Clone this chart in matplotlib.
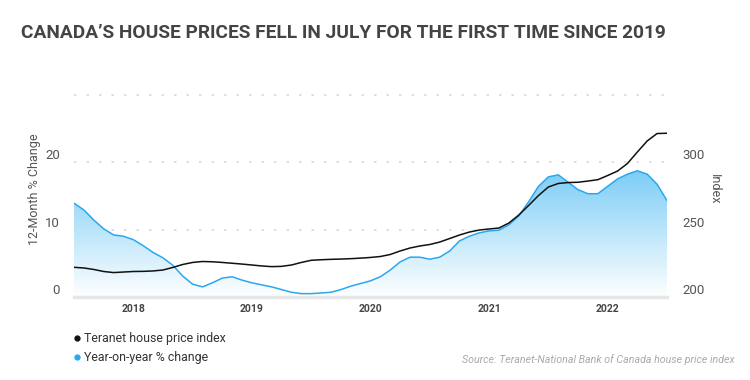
import matplotlib.pyplot as plt
import numpy as np
from matplotlib.lines import Line2D
from matplotlib.patches import Polygon

plt.rcParams["font.family"] = ["Roboto", "DejaVu Sans"]

# monthly, Jul 2017 .. Jul 2022
months = np.arange(2017 + 6 / 12, 2022 + 7 / 12, 1 / 12)[:61]

yoy_change = [
    13.9, 12.9, 11.4, 10.1, 9.2, 9.0, 8.5, 7.6, 6.6, 5.8, 4.7, 3.1,
    1.9, 1.5, 2.1, 2.8, 3.0, 2.5, 2.1, 1.8, 1.5, 1.1, 0.7, 0.5,
    0.5, 0.6, 0.7, 1.1, 1.6, 2.0, 2.4, 3.0, 4.0, 5.2, 5.9, 5.9,
    5.6, 5.9, 6.8, 8.3, 9.0, 9.5, 9.8, 9.9, 10.7, 12.0, 14.1, 16.4,
    17.8, 18.1, 17.0, 15.9, 15.3, 15.3, 16.4, 17.5, 18.2, 18.7, 18.2, 16.7,
    14.3,
]

price_index = [
    222.0, 221.5, 220.4, 218.9, 218.1, 218.5, 218.9, 219.0, 219.3, 220.0, 221.9, 224.1,
    225.6, 226.3, 226.1, 225.6, 225.0, 224.4, 223.7, 223.0, 222.5, 222.7, 223.7, 225.6,
    227.2, 227.6, 227.9, 228.1, 228.4, 228.8, 229.3, 230.0, 231.5, 234.1, 236.3, 237.8,
    238.9, 240.7, 243.3, 245.9, 248.1, 249.6, 250.4, 251.1, 254.8, 260.7, 267.8, 275.2,
    281.5, 284.1, 284.8, 285.0, 285.9, 286.9, 290.0, 293.3, 298.9, 307.4, 315.6, 321.1,
    321.3,
]

year_ticks = [2018, 2019, 2020, 2021, 2022]
pct_ticks = [0, 10, 20]
index_ticks = [200, 250, 300]
grid_levels = [10, 20, 30]

BLUE = "#2aa8ee"
TEXT = "#555555"

fig = plt.figure(figsize=(7.5, 3.8), dpi=100)
ax = fig.add_axes([0.0987, 0.2184, 0.7906, 0.5684])
ax2 = ax.twinx()

# gradient fill under the yoy curve
verts = [(months[0], 0)] + list(zip(months, yoy_change)) + [(months[-1], 0)]
poly = Polygon(verts, closed=True, facecolor="none", edgecolor="none")
ax.add_patch(poly)
grad = np.linspace(0, 1, 256).reshape(-1, 1)
img = ax.imshow(
    grad,
    extent=[months[0], months[-1], 0, max(yoy_change)],
    origin="lower",
    aspect="auto",
    cmap=plt.matplotlib.colors.LinearSegmentedColormap.from_list("f", ["#ffffff", "#7ccdf6"]),
    zorder=1,
)
img.set_clip_path(poly)
ax.set_xlim(months[0], months[-1])
ax.set_ylim(0, 32)
ax2.set_ylim(200, 360)

for lvl in grid_levels:
    ax.axhline(lvl, color="#d9d9d9", lw=1.2, ls=(0, (1.5, 6)), zorder=0)
ax.axhline(0, color="#e6e6e6", lw=2.5, zorder=2, clip_on=False)

ax.plot(months, yoy_change, color=BLUE, lw=1.1, zorder=3)
ax2.plot(months, price_index, color="#111111", lw=1.1, zorder=4)

for a in (ax, ax2):
    for s in a.spines.values():
        s.set_visible(False)
    a.tick_params(length=0, colors=TEXT, labelsize=9.5)

ax.set_yticks(pct_ticks)
ax2.set_yticks(index_ticks)
for lbl in ax.get_yticklabels() + ax2.get_yticklabels():
    lbl.set_verticalalignment("bottom")
ax.tick_params(axis="y", pad=10)
ax2.tick_params(axis="y", pad=11)

ax.set_xticks(year_ticks)
ax.set_xticklabels([str(y) for y in year_ticks], fontsize=7.5, fontweight="bold", color="#444444")
ax.tick_params(axis="x", pad=5)

ax.set_ylabel("12-Month % Change", color=TEXT, fontsize=9, labelpad=3)
ax2.set_ylabel("Index", color=TEXT, fontsize=9, rotation=270, labelpad=12)

fig.text(0.028, 0.913, "CANADA\u2019S HOUSE PRICES FELL IN JULY FOR THE FIRST TIME SINCE 2019",
         fontsize=13.8, fontweight="bold", color="#444444", va="center", ha="left")

handles = [
    Line2D([], [], ls="none", marker="o", ms=3.5, color="#111111"),
    Line2D([], [], ls="none", marker="o", ms=3.5, color=BLUE),
]
fig.legend(handles, ["Teranet house price index", "Year-on-year % change"],
           loc="upper left", bbox_to_anchor=(0.099, 0.126), frameon=False,
           fontsize=8.9, handlelength=0.5, handletextpad=0.3, labelspacing=0.5,
           labelcolor="#333333", borderaxespad=0, borderpad=0)

fig.text(0.98, 0.053, "Source: Teranet-National Bank of Canada house price index",
         fontsize=7.7, style="italic", color="#aaaaaa", ha="right", va="center")

fig.savefig("out.png", dpi=100)
